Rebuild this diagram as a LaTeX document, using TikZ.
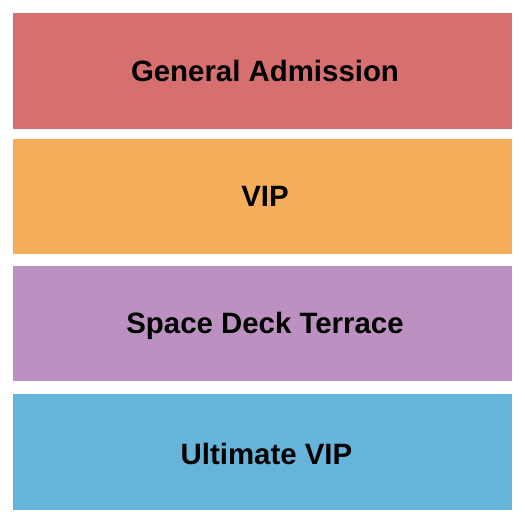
\documentclass[tikz,border=0pt]{standalone}
\usepackage{fontspec}
\setmainfont{Liberation Sans}
\definecolor{gared}{HTML}{D6706E}
\definecolor{viporange}{HTML}{F4AE5B}
\definecolor{sdpurple}{HTML}{BC91C2}
\definecolor{uvblue}{HTML}{67B4DB}
\tikzset{
  seclabel/.style={anchor=base, inner sep=0pt, font=\fontsize{29.4}{31}\selectfont\bfseries, text=black}
}
\begin{document}
\begin{tikzpicture}[x=1pt,y=1pt]
\useasboundingbox[fill=white] (0,0) rectangle (525,525);
\fill[gared]     (13,{525-13})  rectangle (512,{525-129});
\fill[viporange] (13,{525-139}) rectangle (512,{525-254});
\fill[sdpurple]  (13,{525-266}) rectangle (512,{525-381});
\fill[uvblue]    (13,{525-394}) rectangle (512,{525-510});
\node[seclabel] (ga)  at (265,{525-81.7})  {General Admission};
\node[seclabel] (vip) at (265,{525-206.7}) {VIP};
\node[seclabel] (sdt) at (265,{525-333.3}) {Space Deck Terrace};
\node[seclabel] (uv)  at (266.5,{525-465}) {Ultimate VIP};
\end{tikzpicture}
\end{document}
